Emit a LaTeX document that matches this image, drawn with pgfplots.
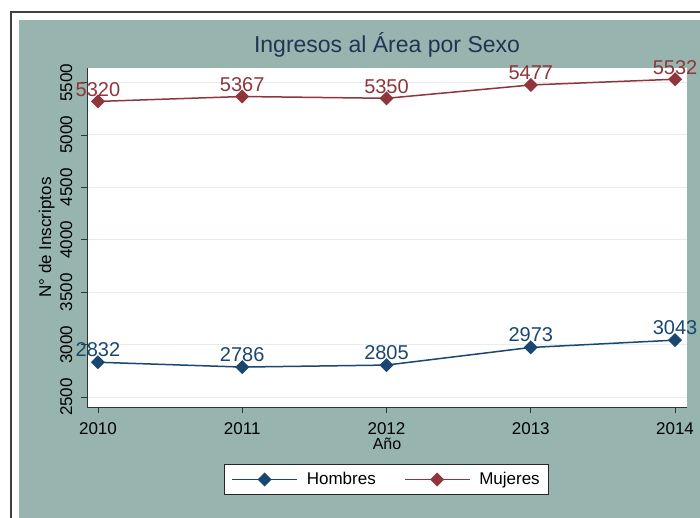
\documentclass[border=0pt]{standalone}
\usepackage{fontspec}
\setmainfont{Liberation Sans}
\usepackage{pgfplots}
\pgfplotsset{compat=1.18}
\definecolor{bggreen}{HTML}{97B5AE}
\definecolor{navy}{HTML}{1A476F}
\definecolor{maroon}{HTML}{90353B}
\definecolor{gridc}{HTML}{E4EEF0}
\definecolor{titlec}{HTML}{1F3554}

\begin{document}
\begin{tikzpicture}
\useasboundingbox (0pt,0pt) rectangle (700pt,517pt);
\fill[white] (0pt,0pt) rectangle (700pt,517pt);
\fill[bggreen] (19pt,-10pt) rectangle (720pt,497pt);
\draw[black!75, line width=1.2pt] (11pt,-20pt) -- (11pt,505pt) -- (720pt,505pt);
\begin{axis}[
    at={(87pt,110pt)}, anchor=south west,
    width=600pt, height=339pt, scale only axis,
    clip=false,
    xmin=2009.924, xmax=2014.083,
    ymin=2405, ymax=5639,
    xtick={2010,2011,2012,2013,2014},
    ytick={2500,3000,3500,4000,4500,5000,5500},
    /pgf/number format/1000 sep={},
    /pgf/number format/assume math mode=true,
    axis x line*=bottom, axis y line*=left,
    axis line style={black!80, line width=0.8pt},
    axis background/.style={fill=white},
    tick align=outside, major tick length=6pt,
    tick style={black!80, line width=0.8pt},
    ymajorgrids, major grid style={gridc, line width=1pt},
    ticklabel style={font=\fontsize{17}{17}\selectfont, black},
    xticklabel style={anchor=base, yshift=-21pt},
    yticklabel style={xshift=-9pt, rotate=90, anchor=base},
    title={Ingresos al Área por Sexo},
    title style={at={(axis description cs:0.5,1)}, anchor=base, yshift=9.7pt,
        font=\fontsize{23}{23}\selectfont, text=titlec},
    xlabel={Año},
    xlabel style={at={(axis description cs:0.5,0)}, anchor=base, yshift=-42.3pt,
        font=\fontsize{16}{16}\selectfont},
    ylabel={N° de Inscriptos},
    ylabel style={at={(axis description cs:-0.060,0.5)}, anchor=base,
        font=\fontsize{17}{17}\selectfont},
    legend columns=2,
    legend cell align=left,
    legend style={at={(0.4992,-0.2139)}, anchor=center,
        draw=black!85, line width=0.8pt, fill=white,
        font=\fontsize{17}{17}\selectfont,
        inner xsep=7pt, inner ysep=6pt,
        /tikz/every odd column/.append style={column sep=7pt},
        /tikz/every even column/.append style={column sep=26pt}},
    legend image code/.code={
        \draw[mark repeat=2, mark phase=2, #1]
            plot coordinates {(0pt,0pt) (32.5pt,0pt) (65pt,0pt)};},
]
\addplot[navy, line width=1.5pt, mark=square*, mark size=4.2pt,
    mark options={rotate=45},
    nodes near coords,
    every node near coord/.append style={font=\fontsize{20}{20}\selectfont,
        text=navy, anchor=base, yshift=6pt}]
    coordinates {(2010,2832) (2011,2786) (2012,2805) (2013,2973) (2014,3043)};
\addlegendentry{Hombres}
\addplot[maroon, line width=1.5pt, mark=square*, mark size=4.2pt,
    mark options={rotate=45},
    nodes near coords,
    every node near coord/.append style={font=\fontsize{20}{20}\selectfont,
        text=maroon, anchor=base, yshift=5pt}]
    coordinates {(2010,5320) (2011,5367) (2012,5350) (2013,5477) (2014,5532)};
\addlegendentry{Mujeres}
\end{axis}
\end{tikzpicture}
\end{document}
